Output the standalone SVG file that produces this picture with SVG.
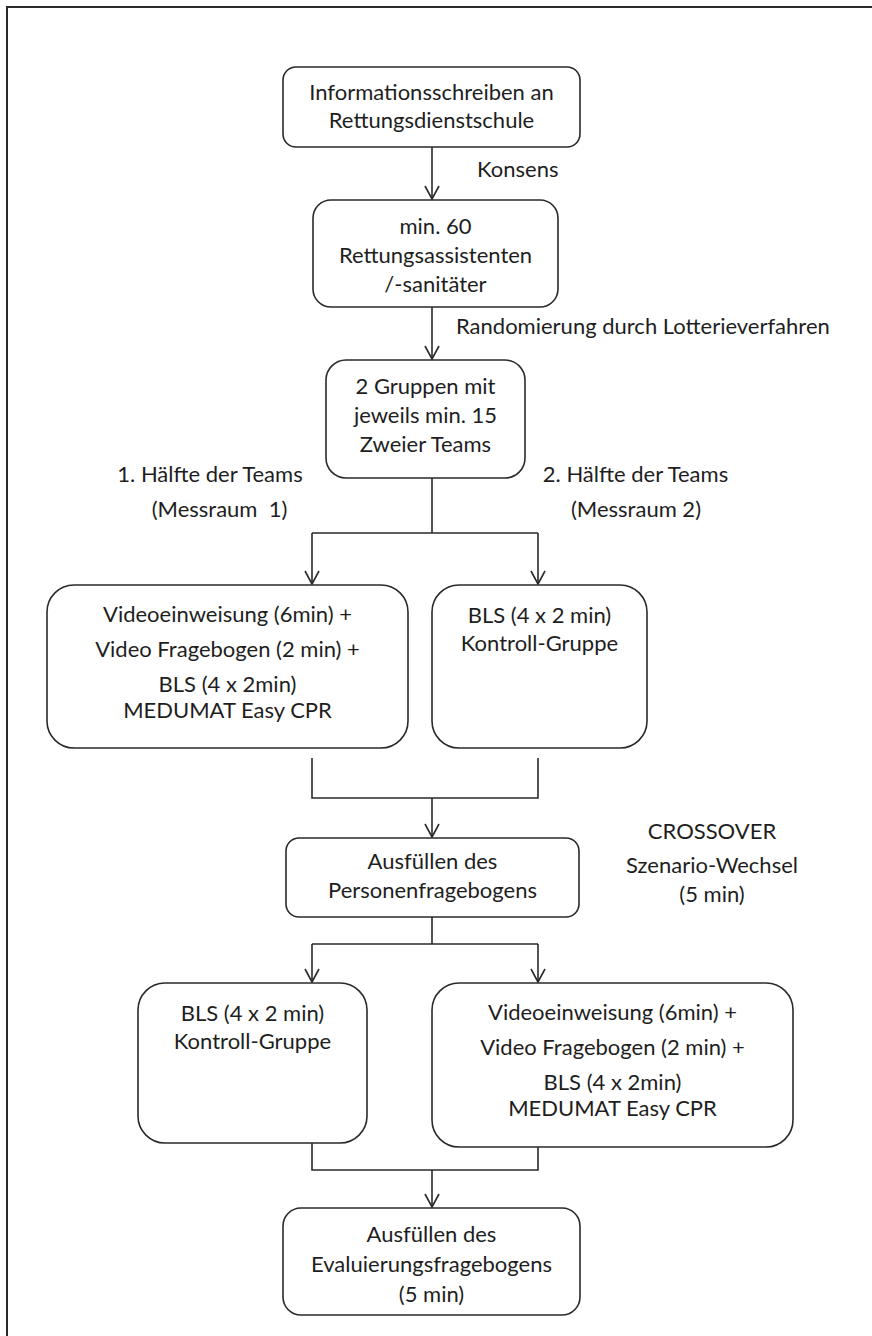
<svg xmlns="http://www.w3.org/2000/svg" width="872" height="1336" viewBox="0 0 872 1336">
<style>
  .box { fill: #ffffff; stroke: #2a2a2a; stroke-width: 1.6; }
  .conn { fill: none; stroke: #2a2a2a; stroke-width: 1.6; }
  text { font-family: Lato, "Liberation Sans", sans-serif; font-size: 22px; fill: #1e1e1e; }
  .c { text-anchor: middle; }
  .pre { white-space: pre; }
</style>
<defs>
  <marker id="arr" markerUnits="userSpaceOnUse" markerWidth="18" markerHeight="18" refX="14" refY="8" orient="auto">
    <path d="M1 1 L14 8 L1 15" fill="none" stroke="#2a2a2a" stroke-width="1.6"/>
  </marker>
</defs>
<rect x="0" y="0" width="872" height="1336" fill="#ffffff"/>
<rect x="7" y="7" width="900" height="1400" fill="none" stroke="#2a2a2a" stroke-width="2"/>

<g id="connectors">
  <path class="conn" d="M432 147 V199" marker-end="url(#arr)"/>
  <path class="conn" d="M432 307 V359" marker-end="url(#arr)"/>
  <path class="conn" d="M432 478 V533 M312 533 H538"/>
  <path class="conn" d="M312 533 V584" marker-end="url(#arr)"/>
  <path class="conn" d="M538 533 V584" marker-end="url(#arr)"/>
  <path class="conn" d="M312 758 V798 H538 V758"/>
  <path class="conn" d="M432 798 V837" marker-end="url(#arr)"/>
  <path class="conn" d="M432 917 V944 M312 944 H538"/>
  <path class="conn" d="M312 944 V982" marker-end="url(#arr)"/>
  <path class="conn" d="M538 944 V982" marker-end="url(#arr)"/>
  <path class="conn" d="M312 1143 V1170 H538 V1147"/>
  <path class="conn" d="M432 1170 V1207" marker-end="url(#arr)"/>
</g>

<g id="labels">
  <text x="477" y="177">Konsens</text>
  <text x="456" y="334">Randomierung durch Lotterieverfahren</text>
  <text class="c" x="210" y="482">1. Hälfte der Teams</text>
  <text class="c pre" x="219.5" y="517">(Messraum  1)</text>
  <text class="c" x="635.5" y="482">2. Hälfte der Teams</text>
  <text class="c" x="636" y="517">(Messraum 2)</text>
  <text class="c" x="712" y="839">CROSSOVER</text>
  <text class="c" x="712" y="873">Szenario-Wechsel</text>
  <text class="c" x="712" y="902">(5 min)</text>
</g>

<g id="n1">
  <rect class="box" x="283" y="67" width="297" height="80" rx="13"/>
  <text class="c" x="431.5" y="100">Informationsschreiben an</text>
  <text class="c" x="431.5" y="128">Rettungsdienstschule</text>
</g>
<g id="n2">
  <rect class="box" x="313" y="200" width="245" height="107" rx="18"/>
  <text class="c" x="435.5" y="234">min. 60</text>
  <text class="c" x="435.5" y="263">Rettungsassistenten</text>
  <text class="c" x="435.5" y="292">/-sanitäter</text>
</g>
<g id="n3">
  <rect class="box" x="326" y="360" width="199" height="118" rx="20"/>
  <text class="c" x="425.5" y="394">2 Gruppen mit</text>
  <text class="c" x="425.5" y="423">jeweils min. 15</text>
  <text class="c" x="425.5" y="452">Zweier Teams</text>
</g>
<g id="n4">
  <rect class="box" x="47" y="585" width="361" height="163" rx="27"/>
  <text class="c" x="227.5" y="622">Videoeinweisung (6min) +</text>
  <text class="c" x="227.5" y="657">Video Fragebogen (2 min) +</text>
  <text class="c" x="227.5" y="692">BLS (4 x 2min)</text>
  <text class="c" x="227.5" y="718">MEDUMAT Easy CPR</text>
</g>
<g id="n5">
  <rect class="box" x="432" y="585" width="215" height="163" rx="27"/>
  <text class="c" x="539.5" y="623">BLS (4 x 2 min)</text>
  <text class="c" x="539.5" y="651">Kontroll-Gruppe</text>
</g>
<g id="n6">
  <rect class="box" x="286" y="838" width="293" height="79" rx="13"/>
  <text class="c" x="432.5" y="869">Ausfüllen des</text>
  <text class="c" x="432.5" y="898">Personenfragebogens</text>
</g>
<g id="n7">
  <rect class="box" x="138" y="983" width="229" height="160" rx="27"/>
  <text class="c" x="252.5" y="1021">BLS (4 x 2 min)</text>
  <text class="c" x="252.5" y="1049">Kontroll-Gruppe</text>
</g>
<g id="n8">
  <rect class="box" x="432" y="983" width="361" height="164" rx="27"/>
  <text class="c" x="612.5" y="1020">Videoeinweisung (6min) +</text>
  <text class="c" x="612.5" y="1055">Video Fragebogen (2 min) +</text>
  <text class="c" x="612.5" y="1090">BLS (4 x 2min)</text>
  <text class="c" x="612.5" y="1116">MEDUMAT Easy CPR</text>
</g>
<g id="n9">
  <rect class="box" x="283" y="1208" width="297" height="107" rx="18"/>
  <text class="c" x="431.5" y="1242">Ausfüllen des</text>
  <text class="c" x="431.5" y="1272">Evaluierungsfragebogens</text>
  <text class="c" x="431.5" y="1302">(5 min)</text>
</g>
</svg>
